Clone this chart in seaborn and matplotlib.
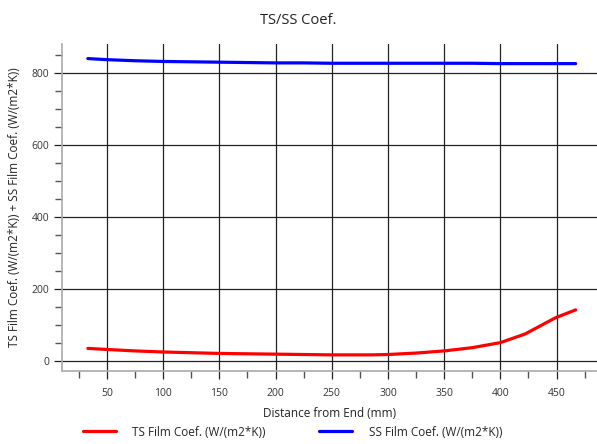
import matplotlib
matplotlib.use("Agg")
import matplotlib.pyplot as plt
from matplotlib.ticker import MultipleLocator, FixedLocator
from matplotlib.lines import Line2D
import seaborn as sns
import pandas as pd

distance = [33, 50, 75, 100, 125, 150, 175, 200, 225, 250, 285, 300, 325, 350, 375, 400, 422, 449, 467]
ts_coef = [35, 32, 28, 25, 23, 21, 20, 19, 18, 17, 17, 18, 22, 28, 37, 51, 75, 120, 142]
ss_coef = [840, 837, 834, 832, 831, 830, 829, 828, 828, 827, 827, 827, 827, 827, 827, 826, 826, 826, 826]
ts_label = "TS Film Coef. (W/(m2*K))"
ss_label = "SS Film Coef. (W/(m2*K))"
x_major = [50, 100, 150, 200, 250, 300, 350, 400, 450]
x_minor = [25, 75, 125, 175, 225, 275, 325, 375, 425, 475]

df = pd.concat([
    pd.DataFrame({"x": distance, "y": ts_coef, "series": ts_label}),
    pd.DataFrame({"x": distance, "y": ss_coef, "series": ss_label}),
])

sns.set_style("white")
plt.rcParams['font.family'] = ['Open Sans', 'DejaVu Sans']

fig = plt.figure(figsize=(5.97, 4.44), dpi=100)
ax = fig.add_axes([62/597, 1 - 371/444, 1 - 62/597, (371 - 44)/444])

sns.lineplot(data=df, x="x", y="y", hue="series", palette={ts_label: "#ff0000", ss_label: "#0000ff"},
             linewidth=2.3, ax=ax, legend=False, zorder=5)

ax.set_xlim(10, 486)
ax.set_ylim(-27.8, 880.5)
ax.set_xticks(x_major)
ax.xaxis.set_minor_locator(FixedLocator(x_minor))
ax.yaxis.set_major_locator(MultipleLocator(200))
ax.yaxis.set_minor_locator(MultipleLocator(50))

ax.grid(True, which="major", color="#222222", linewidth=0.9)
ax.tick_params(axis="both", which="major", length=6, width=0.9, color="#222222", labelsize=7.5,
               labelcolor="#333333", pad=3, direction="out", bottom=True, left=True)
ax.tick_params(axis="both", which="minor", length=5, width=1, color="#555555", direction="out",
               bottom=True, left=True)
ax.tick_params(axis="x", which="major", pad=6)

for s in ["top", "right"]:
    ax.spines[s].set_visible(False)
for s in ["left", "bottom"]:
    ax.spines[s].set_color("#aaaaaa")
    ax.spines[s].set_linewidth(1.2)

ax.set_xlabel("Distance from End (mm)", fontsize=8.5, color="#222222", labelpad=6)
ax.set_ylabel("TS Film Coef. (W/(m2*K)) + SS Film Coef. (W/(m2*K))", fontsize=8.5, color="#222222", labelpad=8)
fig.text(0.5, 1 - 20/444, "TS/SS Coef.", ha="center", va="center", fontsize=10.5, color="#222222")

handles = [Line2D([], [], color="#ff0000", lw=2.3), Line2D([], [], color="#0000ff", lw=2.3)]
fig.legend(handles, [ts_label, ss_label], loc="center", bbox_to_anchor=(0.49, 1 - 432/444), ncol=2,
           frameon=False, fontsize=8.5, handlelength=2.8, columnspacing=4.5, handletextpad=1.4)

fig.savefig("out.png", dpi=100)
